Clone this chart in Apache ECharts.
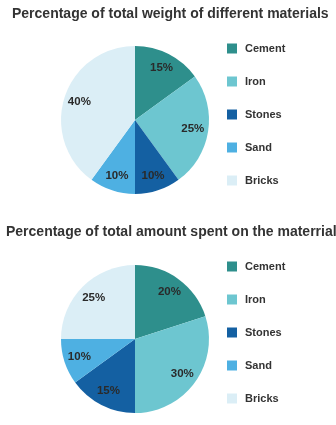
<!DOCTYPE html>
<html>
<head>
<meta charset="utf-8">
<script src="https://cdn.jsdelivr.net/npm/echarts@6/dist/echarts.min.js"></script>
<style>
  html, body { margin: 0; padding: 0; background: #ffffff; }
  #chart { width: 336px; height: 425px; }
</style>
</head>
<body>
<div id="chart"></div>
<script>
// Materials and their shares (percent)
const materials = ['Cement', 'Iron', 'Stones', 'Sand', 'Bricks'];
const weightShare = [15, 25, 10, 10, 40];
const spendShare = [20, 30, 15, 10, 25];
const sliceColors = ['#2e8f8c', '#6dc6d0', '#1460a2', '#4eb0e2', '#dbeef6'];

const titleWeight = 'Percentage of total weight of different materials';
const titleSpend = 'Percentage of total amount spent on the materrial';

const textColor = '#333333';
const labelColor = '#2a2a2a';
const FONT = '"Liberation Sans", Arial, sans-serif';

function toData(values, colors) {
  return materials.map((name, i) => ({
    name: name,
    value: values[i],
    itemStyle: { color: colors ? colors[i] : 'rgba(0,0,0,0)' }
  }));
}

// Filled pie, no labels
function pieSeries(values, center) {
  return {
    type: 'pie',
    center: center,
    radius: [0, 74],
    startAngle: 90,
    clockwise: true,
    silent: true,
    label: { show: false },
    labelLine: { show: false },
    itemStyle: { borderWidth: 0 },
    data: toData(values, sliceColors)
  };
}

// Transparent ring carrying the percentage labels further out from the centre
function labelRing(values, center) {
  return {
    type: 'pie',
    center: center,
    radius: [37, 74],
    startAngle: 90,
    clockwise: true,
    silent: true,
    legendHoverLink: false,
    itemStyle: { borderWidth: 0 },
    label: {
      show: true,
      position: 'inside',
      formatter: '{c}%',
      color: labelColor,
      fontFamily: FONT,
      fontWeight: 'bold',
      fontSize: 11.5
    },
    labelLine: { show: false },
    data: toData(values, null)
  };
}

function legendAt(top) {
  return {
    orient: 'vertical',
    left: 222,
    top: top,
    itemWidth: 10,
    itemHeight: 10,
    itemGap: 22,
    icon: 'rect',
    selectedMode: false,
    data: materials,
    textStyle: {
      color: textColor,
      fontFamily: FONT,
      fontWeight: 'bold',
      fontSize: 11,
      padding: [0, 0, 0, 3]
    }
  };
}

const chart = echarts.init(document.getElementById('chart'), null, { renderer: 'canvas' });
chart.setOption({
  animation: false,
  backgroundColor: '#ffffff',
  title: [
    {
      text: titleWeight,
      left: 12,
      top: 7,
      padding: 0,
      textStyle: { color: textColor, fontFamily: FONT, fontWeight: 'bold', fontSize: 14 }
    },
    {
      text: titleSpend,
      left: 6,
      top: 225,
      padding: 0,
      textStyle: { color: textColor, fontFamily: FONT, fontWeight: 'bold', fontSize: 14 }
    }
  ],
  legend: [legendAt(38), legendAt(256)],
  series: [
    pieSeries(weightShare, [135, 120]),
    pieSeries(spendShare, [135, 339]),
    labelRing(weightShare, [135, 120]),
    labelRing(spendShare, [135, 339])
  ]
});
</script>
</body>
</html>
